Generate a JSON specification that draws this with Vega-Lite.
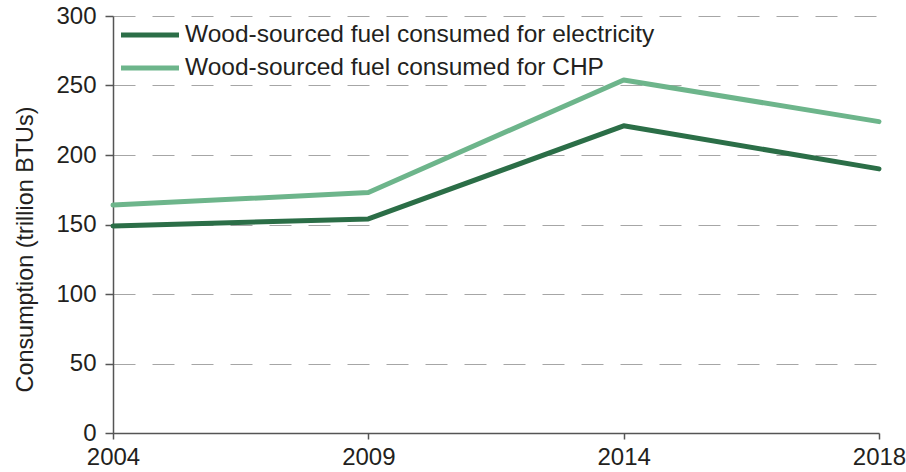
{
  "$schema": "https://vega.github.io/schema/vega-lite/v6.json",
  "width": 766,
  "height": 417,
  "autosize": "none",
  "padding": {"left": 113, "top": 16, "right": 27, "bottom": 39},
  "background": "white",
  "config": {
    "view": {"stroke": null},
    "font": "Liberation Sans",
    "axis": {
      "labelFont": "Liberation Sans",
      "titleFont": "Liberation Sans",
      "labelFontSize": 24,
      "titleFontSize": 23.4,
      "labelColor": "#231f20",
      "titleColor": "#231f20",
      "titleFontWeight": "normal",
      "domainColor": "#555555",
      "domainWidth": 1.5,
      "tickColor": "#555555",
      "tickWidth": 1.5
    }
  },
  "data": {
    "values": [
      {"year": "2004", "use": "Wood-sourced fuel consumed for electricity", "value": 149},
      {"year": "2009", "use": "Wood-sourced fuel consumed for electricity", "value": 154},
      {"year": "2014", "use": "Wood-sourced fuel consumed for electricity", "value": 221},
      {"year": "2018", "use": "Wood-sourced fuel consumed for electricity", "value": 190},
      {"year": "2004", "use": "Wood-sourced fuel consumed for CHP", "value": 164},
      {"year": "2009", "use": "Wood-sourced fuel consumed for CHP", "value": 173},
      {"year": "2014", "use": "Wood-sourced fuel consumed for CHP", "value": 254},
      {"year": "2018", "use": "Wood-sourced fuel consumed for CHP", "value": 224}
    ]
  },
  "mark": {"type": "line", "strokeWidth": 5, "strokeCap": "round", "strokeJoin": "round"},
  "encoding": {
    "x": {
      "field": "year",
      "type": "ordinal",
      "scale": {"type": "point", "padding": 0},
      "axis": {
        "title": null,
        "labelAngle": 0,
        "grid": false,
        "tickSize": 6,
        "labelPadding": 6
      }
    },
    "y": {
      "field": "value",
      "type": "quantitative",
      "scale": {"domain": [0, 300]},
      "axis": {
        "title": "Consumption (trillion BTUs)",
        "values": [0, 50, 100, 150, 200, 250, 300],
        "tickSize": 8,
        "labelPadding": 9,
        "grid": true,
        "gridColor": "#a6a6a6",
        "gridWidth": 1,
        "gridDash": [22, 17],
        "titleX": -88,
        "titleY": 233,
        "titleBaseline": "middle",
        "titleAngle": -90
      }
    },
    "color": {
      "field": "use",
      "type": "nominal",
      "scale": {
        "domain": ["Wood-sourced fuel consumed for electricity", "Wood-sourced fuel consumed for CHP"],
        "range": ["#2b6e47", "#6db58b"]
      },
      "legend": {
        "title": null,
        "orient": "none",
        "legendX": 20,
        "legendY": 2,
        "symbolType": "M-2,0H2",
        "symbolSize": 841,
        "symbolStrokeWidth": 5,
        "symbolStrokeCap": "round",
        "labelFont": "Liberation Sans",
        "labelFontSize": 24.5,
        "labelColor": "#231f20",
        "labelOffset": 18,
        "rowPadding": 4,
        "labelLimit": 700
      }
    }
  }
}
